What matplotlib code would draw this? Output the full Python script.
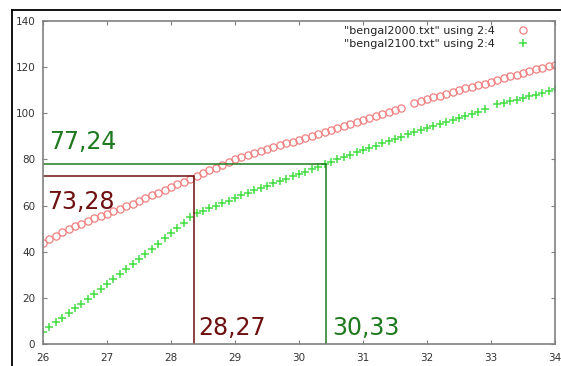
import matplotlib
matplotlib.use('Agg')
import matplotlib.pyplot as plt
from matplotlib.lines import Line2D

# data (x = column 2, y = column 4)
x2000 = [26.0, 26.1, 26.2, 26.3, 26.4, 26.5, 26.6, 26.7, 26.8, 26.9,
         27.0, 27.1, 27.2, 27.3, 27.4, 27.5, 27.6, 27.7, 27.8, 27.9,
         28.0, 28.1, 28.2, 28.3, 28.4, 28.5, 28.6, 28.7, 28.8, 28.9,
         29.0, 29.1, 29.2, 29.3, 29.4, 29.5, 29.6, 29.7, 29.8, 29.9,
         30.0, 30.1, 30.2, 30.3, 30.4, 30.5, 30.6, 30.7, 30.8, 30.9,
         31.0, 31.1, 31.2, 31.3, 31.4, 31.5, 31.6, 31.8, 31.9,
         32.0, 32.1, 32.2, 32.3, 32.4, 32.5, 32.6, 32.7, 32.8, 32.9,
         33.0, 33.1, 33.2, 33.3, 33.4, 33.5, 33.6, 33.7, 33.8, 33.9, 34.0]
y2000 = [43.7, 45.5, 47.0, 48.4, 49.7, 51.0, 52.2, 53.4, 54.5, 55.5,
         56.5, 57.6, 58.7, 59.8, 60.9, 62.0, 63.2, 64.4, 65.6, 66.8,
         68.0, 69.2, 70.4, 71.6, 72.8, 74.0, 75.2, 76.4, 77.6, 78.8,
         80.0, 80.9, 81.8, 82.7, 83.6, 84.5, 85.3, 86.1, 86.9, 87.7,
         88.5, 89.3, 90.1, 90.9, 91.7, 92.5, 93.4, 94.3, 95.2, 96.1,
         97.0, 97.9, 98.8, 99.7, 100.6, 101.5, 102.4, 104.5, 105.2,
         106.0, 106.8, 107.6, 108.4, 109.2, 110.0, 110.7, 111.4, 112.1, 112.8,
         113.5, 114.3, 115.1, 115.9, 116.7, 117.5, 118.2, 118.9, 119.6, 120.3, 121.0]

x2100 = [26.0, 26.1, 26.2, 26.3, 26.4, 26.5, 26.6, 26.7, 26.8, 26.9,
         27.0, 27.1, 27.2, 27.3, 27.4, 27.5, 27.6, 27.7, 27.8, 27.9,
         28.0, 28.1, 28.2, 28.3, 28.4, 28.5, 28.6, 28.7, 28.8, 28.9,
         29.0, 29.1, 29.2, 29.3, 29.4, 29.5, 29.6, 29.7, 29.8, 29.9,
         30.0, 30.1, 30.2, 30.3, 30.4, 30.5, 30.6, 30.7, 30.8, 30.9,
         31.0, 31.1, 31.2, 31.3, 31.4, 31.5, 31.6, 31.7, 31.8, 31.9,
         32.0, 32.1, 32.2, 32.3, 32.4, 32.5, 32.6, 32.7, 32.8, 32.9,
         33.1, 33.2, 33.3, 33.4, 33.5, 33.6, 33.7, 33.8, 33.9, 34.0]
y2100 = [5.5, 7.5, 9.5, 11.5, 13.5, 15.5, 17.6, 19.7, 21.8, 23.9,
         26.0, 28.2, 30.4, 32.6, 34.8, 37.0, 39.2, 41.4, 43.6, 45.8,
         48.0, 50.3, 52.6, 55.0, 56.6, 57.8, 58.9, 60.0, 61.1, 62.2,
         63.3, 64.4, 65.5, 66.6, 67.6, 68.6, 69.6, 70.6, 71.6, 72.6,
         73.6, 74.7, 75.8, 76.9, 78.0, 79.0, 80.0, 81.0, 82.0, 83.0,
         84.0, 85.0, 86.0, 87.0, 88.0, 89.0, 89.9, 90.8, 91.7, 92.6,
         93.5, 94.4, 95.3, 96.2, 97.1, 98.0, 98.9, 99.8, 100.7, 101.6,
         103.8, 104.5, 105.2, 105.9, 106.6, 107.3, 108.0, 108.8, 109.6, 110.4]

labels = ['"bengal2000.txt" using 2:4', '"bengal2100.txt" using 2:4']

# guide lines (x, y) and their labels
maroon_pt = (28.36, 73.0)
green_pt = (30.42, 78.2)
maroon_labels = ['73,28', '28,27']
green_labels = ['77,24', '30,33']

xticks = [26, 27, 28, 29, 30, 31, 32, 33, 34]
yticks = [0, 20, 40, 60, 80, 100, 120, 140]

maroon = '#6e1010'
green = '#1f7a1f'
gray = '#808080'

fig = plt.figure(figsize=(5.61, 3.66), dpi=100)
ax = fig.add_axes([43 / 561, 1 - 344.3 / 366, 512 / 561, 323.6 / 366])

ax.plot(x2000, y2000, linestyle='none', marker='o', markersize=5.2,
        markerfacecolor='none', markeredgecolor='#f08080', markeredgewidth=0.9,
        label=labels[0])
ax.plot(x2100, y2100, linestyle='none', marker='+', markersize=5.6,
        markeredgecolor='#44dd44', markeredgewidth=1.1, label=labels[1])

# guide lines
ax.plot([26, maroon_pt[0], maroon_pt[0]], [maroon_pt[1], maroon_pt[1], 0],
        color=maroon, lw=1.1)
ax.plot([26, green_pt[0], green_pt[0]], [green_pt[1], green_pt[1], 0],
        color=green, lw=1.1)

ax.text(26.1, 84.6, green_labels[0], color=green, fontsize=17, va='baseline')
ax.text(26.06, 58.4, maroon_labels[0], color=maroon, fontsize=17, va='baseline')
ax.text(maroon_pt[0] + 0.07, 4.0, maroon_labels[1], color=maroon, fontsize=17, va='baseline')
ax.text(green_pt[0] + 0.1, 4.0, green_labels[1], color=green, fontsize=17, va='baseline')

ax.set_xlim(26, 34)
ax.set_ylim(0, 140)
ax.set_xticks(xticks)
ax.set_yticks(yticks)
ax.tick_params(direction='in', length=3, width=0.8, color=gray,
               top=True, right=True, labelsize=7.5, labelcolor='#333333')
ax.tick_params(axis='x', pad=6)
ax.tick_params(axis='y', pad=5.5)
for s in ax.spines.values():
    s.set_color(gray)
    s.set_linewidth(1.2)

leg = ax.legend(loc='upper right', bbox_to_anchor=(0.9537, 0.985), markerfirst=False,
                frameon=False, fontsize=8, handlelength=1.5, handletextpad=1.8,
                borderpad=0, borderaxespad=0, labelspacing=0.3)
for t in leg.get_texts():
    t.set_color('#222222')

# outer frame of the original screenshot
fig.add_artist(Line2D([12 / 561, 1], [1 - 10 / 366] * 2, transform=fig.transFigure,
                      color='black', lw=1.3))
fig.add_artist(Line2D([12 / 561] * 2, [0, 1 - 10 / 366], transform=fig.transFigure,
                      color='black', lw=1.3))

fig.savefig('out.png', dpi=100, facecolor='white')
